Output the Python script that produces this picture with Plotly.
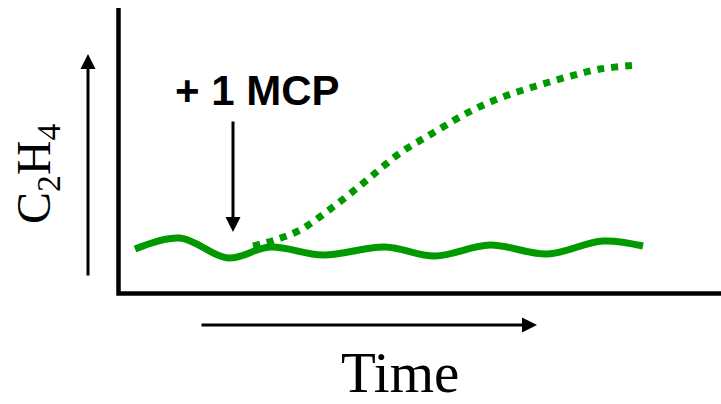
import plotly.graph_objects as go

# Baseline ethylene (with 1-MCP) – solid wavy line
base_time = [14, 59, 107, 149, 202, 264, 314, 369, 426, 482, 522]
base_c2h4 = [42, 53, 33, 44, 36, 44, 35, 46, 37, 50, 45]

# Ethylene rise (without 1-MCP) – dotted sigmoid
rise_time = [132, 154, 179, 212, 246, 279, 312, 346, 379, 412, 446, 479, 517]
rise_c2h4 = [45, 51, 61, 84, 111, 138, 158, 178, 193, 204, 214, 222, 226]

GREEN = "#009900"

fig = go.Figure()
fig.add_trace(go.Scatter(x=base_time, y=base_c2h4, mode="lines",
                         line=dict(color=GREEN, width=7, shape="spline", smoothing=1.0),
                         hoverinfo="skip"))
fig.add_trace(go.Scatter(x=rise_time, y=rise_c2h4, mode="lines",
                         line=dict(color=GREEN, width=7, dash="7px,7px", shape="spline", smoothing=1.0),
                         hoverinfo="skip"))

# axis frame (left + bottom)
fig.add_shape(type="path", path="M -2.5,283 L -2.5,-2.5 L 600,-2.5",
              line=dict(color="black", width=4.5), xref="x", yref="y")

def arrow(x, y, ax, ay):
    fig.add_annotation(x=x, y=y, ax=ax, ay=ay, xref="x", yref="y", axref="x", ayref="y",
                       text="", showarrow=True, arrowhead=2, arrowsize=1.0, arrowwidth=3,
                       arrowcolor="black", standoff=0)

arrow(-33, 237, -33, 14)     # C2H4 axis arrow
arrow(112, 59, 112, 171)     # 1-MCP arrow
arrow(416, -34, 79, -34)     # time arrow

fig.add_annotation(x=136, y=201, xref="x", yref="y", showarrow=False,
                   text="<b>+ 1 MCP</b>",
                   font=dict(family="Liberation Sans", size=42, color="black"))
fig.add_annotation(x=-84, y=117, xref="x", yref="y", showarrow=False, textangle=-90,
                   text="C<sub>2</sub>H<sub>4</sub>",
                   font=dict(family="Liberation Serif", size=48, color="black"))
fig.add_annotation(x=279, y=-81, xref="x", yref="y", showarrow=False,
                   text="Time",
                   font=dict(family="Liberation Serif", size=57, color="black"))

fig.update_layout(
    width=721, height=404, margin=dict(l=0, r=0, t=0, b=0),
    paper_bgcolor="white", plot_bgcolor="white", showlegend=False,
    xaxis=dict(range=[-121, 600], visible=False, fixedrange=True),
    yaxis=dict(range=[-113, 291], visible=False, fixedrange=True),
)
fig.write_html("out.html", config={"displayModeBar": False},
               post_script="document.body.style.margin='0';document.body.style.overflow='hidden';")
